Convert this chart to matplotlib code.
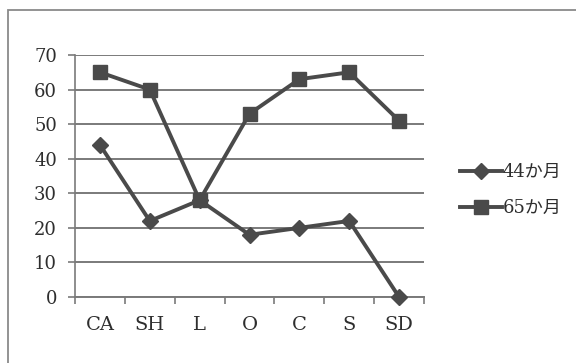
import matplotlib
matplotlib.use("Agg")
import matplotlib.pyplot as plt
from matplotlib.patches import Rectangle
from matplotlib.lines import Line2D

plt.rcParams['font.family'] = ['DejaVu Serif', 'Noto Sans CJK JP']

categories = ["CA", "SH", "L", "O", "C", "S", "SD"]
series_labels = ["44か月", "65か月"]
values_44 = [44, 22, 28, 18, 20, 22, 0]
values_65 = [65, 60, 28, 53, 63, 65, 51]
y_ticks = [0, 10, 20, 30, 40, 50, 60, 70]

W, H = 576, 363
fig = plt.figure(figsize=(W / 100, H / 100), dpi=100)
fig.patch.set_facecolor("white")

# outer chart frame
fig.patches.append(Rectangle((8 / W, -0.05), 1.2, 1 - 10 / H + 0.05,
                             transform=fig.transFigure, fill=False,
                             edgecolor="#8a8a8a", linewidth=1.3, clip_on=False))

ax = fig.add_axes([75 / W, 1 - 297 / H, (424 - 75) / W, (297 - 55) / H])
line_color = "#4a4a4a"
text_color = "#2e2e2e"
x = list(range(len(categories)))

ax.set_xlim(-0.5, len(categories) - 0.5)
ax.set_ylim(0, 70)
ax.set_yticks(y_ticks)
ax.set_xticks([i - 0.5 for i in range(len(categories) + 1)], minor=False)
ax.set_xticklabels([""] * (len(categories) + 1))
ax.set_xticks(x, minor=True)
ax.set_xticklabels(categories, minor=True)

for v in y_ticks:
    ax.axhline(v, color="#7a7a7a", linewidth=1.4, zorder=1)

for s in ["top", "right"]:
    ax.spines[s].set_visible(False)
ax.spines["left"].set_color("#7a7a7a")
ax.spines["left"].set_linewidth(1.2)
ax.spines["bottom"].set_color("#7a7a7a")
ax.spines["bottom"].set_linewidth(1.4)

ax.tick_params(axis="y", which="major", direction="out", length=5, width=1.2,
               color="#7a7a7a", pad=8, labelsize=13, labelcolor=text_color)
ax.tick_params(axis="x", which="major", direction="out", length=5, width=1.2,
               color="#7a7a7a")
ax.tick_params(axis="x", which="minor", length=0, pad=14, labelsize=14,
               labelcolor=text_color)

ax.plot(x, values_44, color=line_color, linewidth=2.8, marker="D",
        markersize=8, markerfacecolor=line_color, markeredgecolor=line_color,
        zorder=3, label=series_labels[0], clip_on=False)
ax.plot(x, values_65, color=line_color, linewidth=2.8, marker="s",
        markersize=10, markerfacecolor=line_color, markeredgecolor=line_color,
        zorder=4, label=series_labels[1], clip_on=False)

handles = [
    Line2D([], [], color=line_color, linewidth=2.8, marker="D", markersize=8),
    Line2D([], [], color=line_color, linewidth=2.8, marker="s", markersize=10),
]
fig.legend(handles, series_labels, loc="center left",
           bbox_to_anchor=(444 / W, 1 - 190 / H), frameon=False,
           fontsize=13, handlelength=2.3, handletextpad=0.05,
           labelspacing=1.0, labelcolor=text_color)

fig.savefig("out.png", dpi=100, facecolor="white")
